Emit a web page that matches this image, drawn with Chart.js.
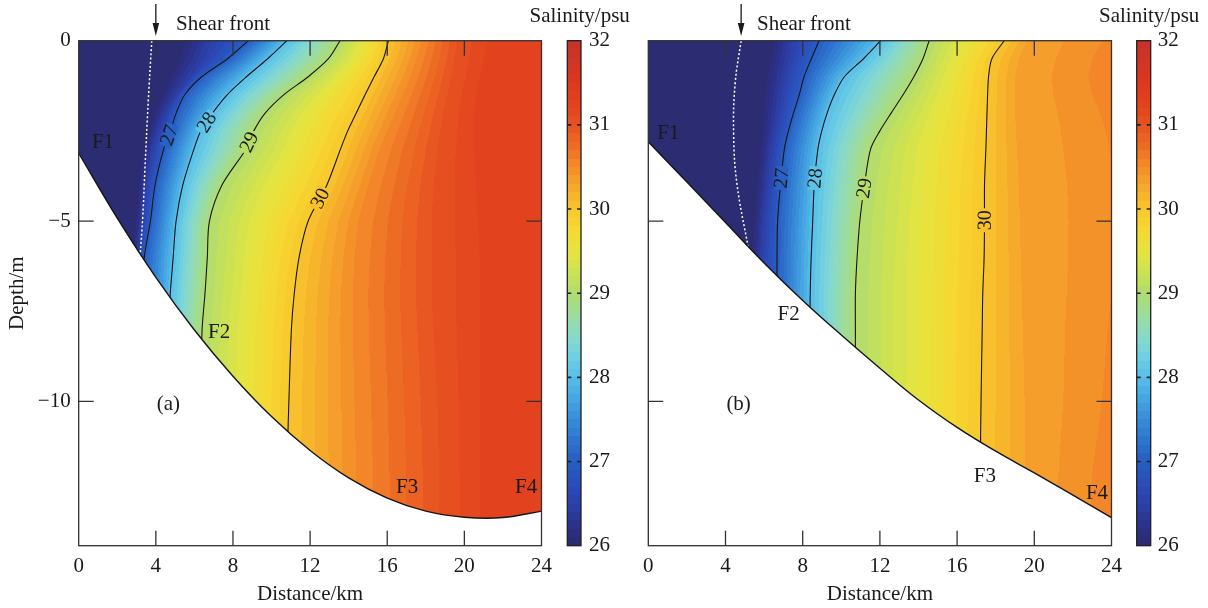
<!DOCTYPE html>
<html>
<head>
<meta charset="utf-8">
<title>Salinity sections</title>
<script src="https://cdn.jsdelivr.net/npm/chart.js@4.4.1/dist/chart.umd.min.js"></script>
<style>
  html, body { margin:0; padding:0; background:#ffffff; }
  body { width:1208px; height:608px; position:relative; overflow:hidden; }
  canvas { position:absolute; top:0; }
</style>
</head>
<body>
<canvas id="cbA" width="125" height="608" style="left:520px"></canvas>
<canvas id="plotA" width="560" height="608" style="left:0px"></canvas>
<canvas id="plotB" width="560" height="608" style="left:570px"></canvas>
<canvas id="cbB" width="118" height="608" style="left:1090px"></canvas>
<script>
// ---------------- data ----------------
const depthLevels   = [0, -0.5, -1, -1.5, -2, -2.5, -3, -4, -5, -6, -7, -8, -10, -12, -14];
const distanceTicks = [0, 4, 8, 12, 16, 20, 24];
const depthTicks    = [0, -5, -10];
const salinityTicks = [26, 27, 28, 29, 30, 31, 32];
const labelledLevels = [27, 28, 29, 30];

// Panel (a): distance (km) of each isohaline at every depth level
const levelsA = [26, 26.5, 27, 28, 29, 30, 30.5, 31, 31.2];
const iso26A  = [5.3, 5.0, 4.6, 4.2, 3.85, 3.55, 3.35, 3.1, 2.9, 2.8, 2.7, 2.6, 2.5, 2.5, 2.5];
const iso265A = [6.9, 6.5, 5.8, 5.1, 4.55, 4.15, 3.85, 3.5, 3.3, 3.1, 3.0, 2.95, 2.9, 2.9, 2.9];
const iso27A  = [8.8, 7.72, 6.38, 5.5, 5.06, 4.76, 4.41, 3.96, 3.72, 3.4, 3.3, 3.25, 3.2, 3.2, 3.2];
const iso28A  = [10.8, 9.8, 8.7, 7.7, 6.95, 6.33, 5.98, 5.4, 5.05, 4.9, 4.75, 4.65, 4.6, 4.6, 4.6];
const iso29A  = [13.55, 12.95, 11.9, 10.63, 9.68, 9.08, 8.68, 7.43, 6.78, 6.67, 6.55, 6.4, 6.3, 6.3, 6.3];
const iso30A  = [16.06, 15.8, 15.32, 14.85, 14.4, 13.95, 13.58, 12.87, 11.9, 11.43, 11.18, 11.03, 10.9, 10.8, 10.8];
const iso305A = [17.8, 17.5, 17.2, 16.8, 16.4, 16.0, 15.6, 15.0, 14.5, 14.3, 14.2, 14.2, 14.3, 14.4, 14.4];
const iso31A  = [19.6, 19.5, 19.3, 19.1, 18.9, 18.75, 18.6, 18.4, 18.3, 18.3, 18.3, 18.4, 18.6, 18.7, 18.7];
const iso312A = [21.2, 21.0, 20.8, 20.6, 20.5, 20.5, 20.5, 20.6, 20.7, 20.8, 20.8, 20.8, 20.8, 20.8, 20.8];
const labelDepthsA = [-2.62, -2.26, -2.81, -4.37];
const bottomDistA  = [0, 2, 4, 6, 8, 10, 12, 14, 16, 18, 20, 22, 24];
const bottomDepthA = [-3.12, -4.92, -6.56, -8.02, -9.30, -10.42, -11.36, -12.12, -12.68, -13.04, -13.21, -13.22, -13.04];
const frontDistA   = [3.79, 3.61, 3.44, 3.32, 3.18];
const frontDepthA  = [0, -1.65, -3.5, -4.89, -6.0];
const arrowDistA   = 4.0;

// Panel (b)
const levelsB = [26, 26.5, 27, 28, 29, 30, 30.3, 30.5];
const iso26B  = [6.3, 6.15, 6.0, 5.9, 5.85, 5.8, 5.7, 5.55, 5.4, 5.3, 5.2, 5.2, 5.2, 5.2, 5.2];
const iso265B = [7.5, 7.3, 7.1, 6.9, 6.75, 6.6, 6.4, 6.2, 6.0, 5.9, 5.85, 5.8, 5.8, 5.8, 5.8];
const iso27B  = [8.85, 8.45, 8.07, 7.82, 7.53, 7.26, 7.05, 6.85, 6.7, 6.67, 6.67, 6.67, 6.67, 6.67, 6.67];
const iso28B  = [12.04, 11.15, 10.16, 9.64, 9.27, 8.99, 8.79, 8.6, 8.52, 8.44, 8.39, 8.38, 8.38, 8.38, 8.38];
const iso29B  = [14.55, 14.23, 13.76, 13.2, 12.59, 12.0, 11.52, 11.2, 10.96, 10.82, 10.73, 10.73, 10.73, 10.73, 10.73];
const iso30B  = [18.44, 17.8, 17.63, 17.58, 17.55, 17.52, 17.49, 17.42, 17.42, 17.4, 17.33, 17.3, 17.24, 17.2, 17.2];
const iso303B = [19.6, 19.2, 19.0, 19.0, 19.0, 19.05, 19.1, 19.2, 19.25, 19.3, 19.35, 19.4, 19.5, 19.5, 19.5];
const iso305B = [23.5, 23.0, 22.8, 23.0, 23.4, 23.7, 23.9, 24.2, 24.3, 24.2, 24.0, 23.8, 23.5, 23.0, 22.8];
const labelDepthsB = [-3.81, -3.81, -4.09, -4.98];
const bottomDistB  = [0, 2, 4, 6, 8, 10, 12, 14, 16, 18, 20, 22, 24];
const bottomDepthB = [-2.8, -3.92, -5.04, -6.16, -7.20, -8.16, -9.08, -9.96, -10.72, -11.38, -11.98, -12.6, -13.22];
const frontDistB   = [4.81, 4.5, 4.42, 4.59, 5.19];
const frontDepthB  = [0, -1.18, -2.57, -3.96, -5.77];
const arrowDistB   = 4.81;

// ---------------- styles ----------------
const FONT = "'Liberation Serif', 'Times New Roman', serif";
const INK = '#1a1a1a';
Chart.defaults.font.family = FONT;
Chart.defaults.font.size = 21;
Chart.defaults.color = INK;

const cmapStops = [
  [26.0, 43, 42, 108], [26.25, 44, 50, 140], [26.5, 44, 64, 170], [26.75, 42, 78, 186],
  [27.0, 40, 94, 194], [27.25, 46, 116, 206], [27.5, 56, 140, 216], [27.75, 70, 166, 226],
  [28.0, 88, 190, 232], [28.25, 112, 208, 226], [28.5, 138, 218, 200], [28.75, 158, 220, 156],
  [29.0, 176, 220, 112], [29.25, 204, 226, 82], [29.5, 230, 228, 62], [29.75, 245, 216, 50],
  [30.0, 248, 198, 44], [30.25, 246, 170, 44], [30.5, 243, 140, 42], [30.75, 237, 108, 36],
  [31.0, 231, 82, 32], [31.25, 226, 66, 30], [31.5, 220, 56, 32], [32.0, 196, 50, 42]
];
function cmap(v) {
  if (v <= cmapStops[0][0]) return cmapStops[0].slice(1);
  for (let i = 0; i < cmapStops.length - 1; i++) {
    const a = cmapStops[i], b = cmapStops[i + 1];
    if (v <= b[0]) {
      const t = (v - a[0]) / (b[0] - a[0]);
      return [a[1] + (b[1] - a[1]) * t, a[2] + (b[2] - a[2]) * t, a[3] + (b[3] - a[3]) * t];
    }
  }
  return cmapStops[cmapStops.length - 1].slice(1);
}
function bandColor(v) {
  const q = Math.min(31.95, Math.max(26.05, (Math.floor(v * 10 + 1e-9) + 0.5) / 10));
  return cmap(q);
}
function isoAt(iso, d) {
  const L = depthLevels;
  if (d >= L[0]) return iso[0];
  for (let i = 0; i < L.length - 1; i++) {
    if (d <= L[i] && d >= L[i + 1]) {
      const t = (L[i] - d) / (L[i] - L[i + 1]);
      return iso[i] + (iso[i + 1] - iso[i]) * t;
    }
  }
  return iso[L.length - 1];
}
function rowXs(isos, d) {
  const xs = isos.map(iso => isoAt(iso, d));
  for (let k = 1; k < xs.length; k++) if (xs[k] < xs[k - 1] + 0.02) xs[k] = xs[k - 1] + 0.02;
  return xs;
}
function valueAt(levels, xs, x) {
  const m = xs.length - 1;
  if (x <= xs[0]) return levels[0];
  if (x >= xs[m]) return levels[m];
  for (let k = 0; k < m; k++) {
    if (x < xs[k + 1]) {
      const t = (x - xs[k]) / (xs[k + 1] - xs[k]);
      return levels[k] + (levels[k + 1] - levels[k]) * t;
    }
  }
  return levels[m];
}
function rgb(c) { return 'rgb(' + Math.round(c[0]) + ',' + Math.round(c[1]) + ',' + Math.round(c[2]) + ')'; }

// ---------------- panels ----------------
const panelA = {
  levels: levelsA,
  isos: [iso26A, iso265A, iso27A, iso28A, iso29A, iso30A, iso305A, iso31A, iso312A],
  labelDepths: labelDepthsA,
  bottomDist: bottomDistA, bottomDepth: bottomDepthA,
  frontDist: frontDistA, frontDepth: frontDepthA,
  arrowDist: arrowDistA, shearTextDist: 5.05,
  texts: [['F1', 1.26, -2.8], ['F2', 7.28, -8.05], ['F3', 17.03, -12.36], ['F4', 23.2, -12.36], ['(a)', 4.65, -10.06]],
  axisWidth: 78.7, padRight: 18.5, showDepthLabels: true
};
const panelB = {
  levels: levelsB,
  isos: [iso26B, iso265B, iso27B, iso28B, iso29B, iso30B, iso303B, iso305B],
  labelDepths: labelDepthsB,
  bottomDist: bottomDistB, bottomDepth: bottomDepthB,
  frontDist: frontDistB, frontDepth: frontDepthB,
  arrowDist: arrowDistB, shearTextDist: 5.63,
  texts: [['F1', 1.04, -2.55], ['F2', 7.27, -7.55], ['F3', 17.44, -12.04], ['F4', 23.25, -12.53], ['(b)', 4.68, -10.07]],
  axisWidth: 78.3, padRight: 17.7, showDepthLabels: false
};

function makePlotPlugin(P) {
  return {
    id: 'sectionField',
    beforeDatasetsDraw(chart) {
      const { ctx, chartArea: a } = chart;
      const xS = chart.scales.x, yS = chart.scales.y;
      const L = Math.floor(a.left), T = Math.floor(a.top), R = Math.ceil(a.right), B = Math.ceil(a.bottom);
      const w = R - L, h = B - T;
      const off = document.createElement('canvas');
      off.width = w; off.height = h;
      const octx = off.getContext('2d');
      const img = octx.createImageData(w, h);
      const xVals = [];
      for (let px = 0; px < w; px++) xVals.push(xS.getValueForPixel(L + px + 0.5));
      for (let py = 0; py < h; py++) {
        const d = yS.getValueForPixel(T + py + 0.5);
        const xs = rowXs(P.isos, d);
        for (let px = 0; px < w; px++) {
          const c = bandColor(valueAt(P.levels, xs, xVals[px]));
          const idx = (py * w + px) * 4;
          img.data[idx] = c[0]; img.data[idx + 1] = c[1]; img.data[idx + 2] = c[2]; img.data[idx + 3] = 255;
        }
      }
      octx.putImageData(img, 0, 0);
      ctx.save();
      ctx.beginPath();
      ctx.rect(a.left, a.top, a.right - a.left, a.bottom - a.top);
      ctx.clip();
      ctx.drawImage(off, L, T);
      ctx.restore();
    },
    afterDatasetsDraw(chart) {
      const { ctx, chartArea: a } = chart;
      const xS = chart.scales.x, yS = chart.scales.y;
      ctx.save();
      // contour labels
      ctx.font = '20px ' + FONT;
      labelledLevels.forEach((lv, i) => {
        const iso = P.isos[P.levels.indexOf(lv)];
        const d = P.labelDepths[i];
        const x = isoAt(iso, d);
        const px = xS.getPixelForValue(x), py = yS.getPixelForValue(d);
        const xu = isoAt(iso, d + 0.35), xl = isoAt(iso, d - 0.35);
        const ang = Math.atan2(yS.getPixelForValue(d + 0.35) - yS.getPixelForValue(d - 0.35),
                               xS.getPixelForValue(xu) - xS.getPixelForValue(xl));
        const txt = String(lv);
        const tw = ctx.measureText(txt).width;
        const bg = bandColor(valueAt(P.levels, rowXs(P.isos, d), x));
        ctx.save();
        ctx.translate(px, py);
        ctx.rotate(ang);
        ctx.fillStyle = rgb(bg);
        ctx.fillRect(-tw / 2 - 2, -6, tw + 4, 12);
        ctx.fillStyle = INK;
        ctx.textAlign = 'center';
        ctx.textBaseline = 'middle';
        ctx.fillText(txt, 0, 1);
        ctx.restore();
      });
      // frame and inward ticks
      ctx.strokeStyle = '#333';
      ctx.lineWidth = 1.3;
      ctx.strokeRect(a.left, a.top, a.right - a.left, a.bottom - a.top);
      ctx.beginPath();
      distanceTicks.forEach(v => {
        if (v <= 0 || v >= 24) return;
        const px = xS.getPixelForValue(v);
        ctx.moveTo(px, a.bottom); ctx.lineTo(px, a.bottom - 15);
        ctx.moveTo(px, a.top); ctx.lineTo(px, a.top + 15);
      });
      depthTicks.forEach(v => {
        if (v >= 0) return;
        const py = yS.getPixelForValue(v);
        ctx.moveTo(a.left, py); ctx.lineTo(a.left + 15, py);
        ctx.moveTo(a.right, py); ctx.lineTo(a.right - 15, py);
      });
      ctx.stroke();
      // annotations
      ctx.fillStyle = INK;
      ctx.font = '21px ' + FONT;
      ctx.textAlign = 'center';
      ctx.textBaseline = 'middle';
      P.texts.forEach(t => ctx.fillText(t[0], xS.getPixelForValue(t[1]), yS.getPixelForValue(t[2]) + 1));
      // shear front arrow
      const ax = xS.getPixelForValue(P.arrowDist);
      ctx.strokeStyle = INK;
      ctx.lineWidth = 1.3;
      ctx.beginPath(); ctx.moveTo(ax, 4); ctx.lineTo(ax, 26); ctx.stroke();
      ctx.beginPath(); ctx.moveTo(ax - 3.3, 23); ctx.lineTo(ax + 3.3, 23); ctx.lineTo(ax, 36); ctx.closePath(); ctx.fill();
      ctx.textAlign = 'left';
      ctx.textBaseline = 'alphabetic';
      ctx.fillText('Shear front', xS.getPixelForValue(P.shearTextDist), 30);
      ctx.restore();
    }
  };
}

function buildPlot(canvasId, P) {
  const datasets = [];
  datasets.push({
    data: P.bottomDist.map((x, i) => ({ x: x, y: P.bottomDepth[i] })),
    borderColor: '#151515', borderWidth: 1.4, backgroundColor: '#ffffff', fill: 'start',
    pointRadius: 0, tension: 0.4, order: 0
  });
  labelledLevels.forEach(lv => {
    const iso = P.isos[P.levels.indexOf(lv)];
    datasets.push({
      data: depthLevels.map((d, i) => ({ x: iso[i], y: d })),
      borderColor: '#151515', borderWidth: 1.1, pointRadius: 0, fill: false, tension: 0.3, order: 1
    });
  });
  datasets.push({
    data: P.frontDist.map((x, i) => ({ x: x, y: P.frontDepth[i] })),
    borderColor: '#ffffff', borderWidth: 1.5, borderDash: [2, 2.2], pointRadius: 0, fill: false, tension: 0.4, order: 2
  });
  return new Chart(document.getElementById(canvasId), {
    type: 'line',
    data: { datasets: datasets },
    options: {
      responsive: false, animation: false, events: [],
      layout: { padding: { top: 40.7, right: P.padRight, left: 0, bottom: 0 } },
      plugins: { legend: { display: false }, tooltip: { enabled: false } },
      scales: {
        x: {
          type: 'linear', min: 0, max: 24,
          afterBuildTicks: s => { s.ticks = distanceTicks.map(v => ({ value: v })); },
          afterFit: s => { s.height = 62.3; },
          grid: { display: false, drawTicks: false }, border: { display: false },
          ticks: { padding: 8, maxRotation: 0, autoSkip: false, color: INK, font: { size: 21 } },
          title: { display: true, text: 'Distance/km', padding: { top: 0, bottom: 1 }, color: INK, font: { size: 21 } }
        },
        y: {
          type: 'linear', min: -14, max: 0,
          afterBuildTicks: s => { s.ticks = depthTicks.map(v => ({ value: v })); },
          afterFit: s => { s.width = P.axisWidth; },
          grid: { display: false, drawTicks: false }, border: { display: false },
          ticks: { display: P.showDepthLabels, padding: 8, color: INK, font: { size: 21 },
                   callback: v => String(v).replace('-', '\u2212') },
          title: { display: P.showDepthLabels, text: 'Depth/m', padding: { top: 5, bottom: 0 }, color: INK, font: { size: 21 } }
        }
      }
    },
    plugins: [makePlotPlugin(P)]
  });
}

const colorbarPlugin = {
  id: 'colorbar',
  afterDraw(chart) {
    const { ctx, chartArea: a } = chart;
    const yS = chart.scales.y;
    ctx.save();
    for (let py = Math.floor(a.top); py < Math.ceil(a.bottom); py++) {
      const v = yS.getValueForPixel(py + 0.5);
      ctx.fillStyle = rgb(bandColor(v));
      ctx.fillRect(a.left, py, a.right - a.left, 1);
    }
    ctx.strokeStyle = '#222';
    ctx.lineWidth = 1.3;
    ctx.strokeRect(a.left, a.top, a.right - a.left, a.bottom - a.top);
    ctx.beginPath();
    salinityTicks.forEach(v => {
      if (v <= 26 || v >= 32) return;
      const py = yS.getPixelForValue(v);
      ctx.moveTo(a.left, py); ctx.lineTo(a.left + 4, py);
      ctx.moveTo(a.right, py); ctx.lineTo(a.right - 4, py);
    });
    ctx.lineWidth = 1.6;
    ctx.stroke();
    ctx.fillStyle = INK;
    ctx.font = '21px ' + FONT;
    ctx.textAlign = 'center';
    ctx.textBaseline = 'alphabetic';
    ctx.fillText('Salinity/psu', (a.left + a.right) / 2 + 5.5, 22);
    ctx.restore();
  }
};

function buildColorbar(canvasId, padLeft, axisWidth, labelPad) {
  return new Chart(document.getElementById(canvasId), {
    type: 'line',
    data: { datasets: [] },
    options: {
      responsive: false, animation: false, events: [],
      layout: { padding: { left: padLeft, top: 40.7, bottom: 62.3, right: 0 } },
      plugins: { legend: { display: false }, tooltip: { enabled: false } },
      scales: {
        x: { type: 'linear', display: false, min: 0, max: 1 },
        y: {
          type: 'linear', position: 'right', min: 26, max: 32,
          afterBuildTicks: s => { s.ticks = salinityTicks.map(v => ({ value: v })); },
          afterFit: s => { s.width = axisWidth; },
          grid: { display: false, drawTicks: false }, border: { display: false },
          ticks: { padding: labelPad, color: INK, font: { size: 21 } }
        }
      }
    },
    plugins: [colorbarPlugin]
  });
}

buildColorbar('cbA', 47.3, 64, 8);
buildPlot('plotA', panelA);
buildPlot('plotB', panelB);
buildColorbar('cbB', 46.7, 57.3, 7);
</script>
</body>
</html>
